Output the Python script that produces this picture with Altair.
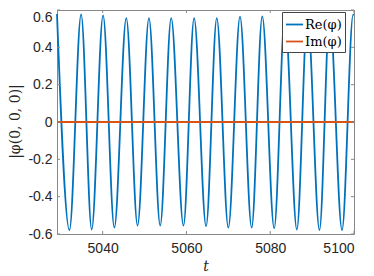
import altair as alt
import pandas as pd

# Re(phi): extremes (time, value)
re_t = [5029.1, 5032.07, 5034.86, 5037.38, 5040.10, 5042.79, 5045.64, 5048.33,
        5051.05, 5053.74, 5056.36, 5059.29, 5061.83, 5064.69, 5067.24, 5070.00,
        5072.79, 5075.57, 5078.10, 5080.95, 5083.50, 5086.36, 5088.90, 5091.76,
        5094.20, 5097.14, 5099.80, 5100.0]
re_v = [0.579, -0.579, 0.577, -0.576, 0.571, -0.566, 0.557, -0.555,
        0.557, -0.555, 0.557, -0.555, 0.557, -0.558, 0.557, -0.566,
        0.564, -0.566, 0.566, -0.569, 0.570, -0.576, 0.575, -0.579,
        0.578, -0.579, 0.575, 0.574]
im_t = [5029.1, 5100.0]
im_v = [0.0, 0.0]

x_ticks = [5040, 5060, 5080, 5100]
y_ticks = [-0.6, -0.4, -0.2, 0, 0.2, 0.4, 0.6]
series = ["Re(φ)", "Im(φ)"]
colors = ["#0072BD", "#D95319"]

W, H = 297, 224
FRAME = "#888888"

re_df = pd.DataFrame({"t": re_t, "v": re_v, "s": series[0]})
im_df = pd.DataFrame({"t": im_t, "v": im_v, "s": series[1]})
tx_df = pd.DataFrame({"t": x_ticks})
ty_df = pd.DataFrame({"v": y_ticks})

xs = alt.Scale(domain=[5029.1, 5100], nice=False, zero=False)
ys = alt.Scale(domain=[-0.6, 0.6], nice=False, zero=False)
cs = alt.Scale(domain=series, range=colors)

x_axis = alt.Axis(values=x_ticks, format="d", title="t", ticks=False, domain=False,
                  grid=False, labelPadding=7, labelFont="Liberation Sans",
                  labelFontSize=14, labelColor="#262626",
                  titleFont="DejaVu Serif", titleFontStyle="italic",
                  titleFontWeight="normal", titleFontSize=14, titleColor="#262626",
                  titleY=36, titleBaseline="alphabetic")
y_axis = alt.Axis(values=y_ticks, title="|φ(0, 0, 0)|", ticks=False, domain=False,
                  grid=False, labelPadding=5, labelFont="Liberation Sans",
                  labelFontSize=14, labelColor="#262626",
                  labelExpr="datum.value == 0 ? '0' : (datum.value < 0 ? '-' : '') + format(abs(datum.value), '.1f')",
                  labelOffset={"condition": {"test": "datum.value > 0.59", "value": 7}, "value": 0},
                  titleFont="DejaVu Serif", titleFontWeight="normal", titleFontSize=14,
                  titleColor="#262626", titleAngle=270, titleX=-38, titleY=111,
                  titleAlign="center", titleBaseline="alphabetic")

legend = alt.Legend(orient="none", legendX=225, legendY=2, title=None,
                    symbolType="stroke", symbolSize=289, symbolStrokeWidth=1.8,
                    labelFont="DejaVu Serif", labelFontSize=13, labelColor="black",
                    labelOffset=1, padding=3, rowPadding=0, fillColor="white",
                    strokeColor="#444444", cornerRadius=0)

color = alt.Color("s:N", scale=cs, legend=legend)

re_line = alt.Chart(re_df).mark_line(interpolate="monotone", strokeWidth=1.8).encode(
    x=alt.X("t:Q", scale=xs, axis=x_axis),
    y=alt.Y("v:Q", scale=ys, axis=y_axis),
    color=color,
)
im_line = alt.Chart(im_df).mark_line(strokeWidth=2).encode(
    x=alt.X("t:Q", scale=xs, axis=x_axis),
    y=alt.Y("v:Q", scale=ys, axis=y_axis),
    color=color,
)

tick_bottom = alt.Chart(tx_df).mark_rule(color=FRAME, strokeWidth=1).encode(
    x=alt.X("t:Q", scale=xs, axis=x_axis), y=alt.value(H), y2=alt.value(H - 3))
tick_top = alt.Chart(tx_df).mark_rule(color=FRAME, strokeWidth=1).encode(
    x=alt.X("t:Q", scale=xs, axis=x_axis), y=alt.value(0), y2=alt.value(3))
tick_left = alt.Chart(ty_df).mark_rule(color=FRAME, strokeWidth=1).encode(
    y=alt.Y("v:Q", scale=ys, axis=y_axis), x=alt.value(0), x2=alt.value(3))
tick_right = alt.Chart(ty_df).mark_rule(color=FRAME, strokeWidth=1).encode(
    y=alt.Y("v:Q", scale=ys, axis=y_axis), x=alt.value(W), x2=alt.value(W - 3))

chart = alt.layer(re_line, im_line, tick_bottom, tick_top, tick_left, tick_right).properties(
    width=W, height=H,
    padding={"left": 49, "top": 2, "right": 4, "bottom": 42},
    autosize=alt.AutoSizeParams(type="none"),
    background="white",
).configure_view(stroke=FRAME, strokeWidth=1)

chart.save("out.html", embed_options={"renderer": "svg", "actions": False})
